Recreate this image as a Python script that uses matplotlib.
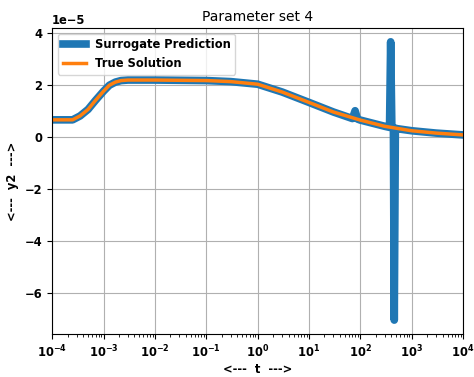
import matplotlib.pyplot as plt
import numpy as np

plt.rcParams['font.size'] = 8.3

# time points (log spaced knots) and y2 values in units of 1e-5
t_true = [1e-4, 2.5e-4, 3.5e-4, 5e-4, 7e-4, 1e-3, 1.3e-3, 1.7e-3, 2.2e-3, 3e-3, 1e-2, 1e-1, 0.3,
          1, 3, 10, 30, 100, 300, 1000, 3000, 1e4]
y_true = [0.65, 0.65, 0.8, 1.05, 1.4, 1.75, 1.98, 2.1, 2.16, 2.18, 2.18, 2.16, 2.12,
          2.02, 1.72, 1.32, 0.95, 0.64, 0.4, 0.23, 0.14, 0.07]

t_surr = [1e-4, 2.5e-4, 3.5e-4, 5e-4, 7e-4, 1e-3, 1.3e-3, 1.7e-3, 2.2e-3, 3e-3, 1e-2, 1e-1, 0.3,
          1, 3, 10, 30, 70, 79, 88, 100, 300,
          370, 389, 410, 440, 457, 480, 520, 1000, 3000, 1e4]
y_surr = [0.65, 0.65, 0.8, 1.05, 1.4, 1.75, 1.98, 2.1, 2.16, 2.18, 2.18, 2.16, 2.12,
          2.02, 1.72, 1.32, 0.95, 0.7, 1.0, 0.68, 0.64, 0.4,
          0.36, 3.65, 0.35, 0.34, -7.05, 0.33, 0.31, 0.23, 0.14, 0.07]

t_true = np.array(t_true)
y_true = np.array(y_true) * 1e-5
t_surr = np.array(t_surr)
y_surr = np.array(y_surr) * 1e-5

fig, ax = plt.subplots(figsize=(4.74, 3.77), dpi=100)
ax.plot(t_surr, y_surr, color='#1f77b4', linewidth=5.5, label='Surrogate Prediction')
ax.plot(t_true, y_true, color='#ff7f0e', linewidth=2.5, label='True Solution')
ax.set_xscale('log')
ax.set_xlim(1e-4, 1e4)
ax.set_xticks([10.0 ** k for k in range(-4, 5)])
ax.grid(True)
ax.set_title('Parameter set 4', fontsize=10, pad=5)
ax.set_xlabel('<---  t  --->', fontweight='bold', labelpad=2)
ax.set_ylabel('<---  y2  --->', fontweight='bold')
for lab in ax.get_xticklabels() + ax.get_yticklabels():
    lab.set_fontweight('bold')
ax.yaxis.get_offset_text().set_fontweight('bold')
ax.legend(loc='upper left', prop={'weight': 'bold'})

fig.subplots_adjust(left=0.11, right=0.977, top=0.926, bottom=0.114)
fig.savefig('out.png')
